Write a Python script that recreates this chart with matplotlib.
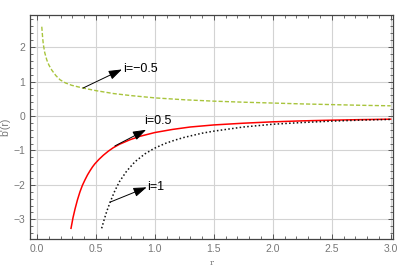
import matplotlib
matplotlib.use("Agg")
import matplotlib.pyplot as plt
from matplotlib.ticker import MultipleLocator

# Data
r_m05 = [0.04, 0.047, 0.053, 0.065, 0.082, 0.1, 0.125, 0.16, 0.195, 0.24, 0.294, 0.39, 0.5, 0.65, 0.8, 1.0, 1.25, 1.5, 1.75, 2.0, 2.25, 2.5, 2.75, 3.0]
b_m05 = [2.59, 2.28, 2.08, 1.84, 1.63, 1.48, 1.33, 1.17, 1.05, 0.96, 0.89, 0.81, 0.735, 0.65, 0.59, 0.525, 0.47, 0.43, 0.40, 0.375, 0.35, 0.33, 0.31, 0.295]

r_p05 = [0.288, 0.305, 0.322, 0.343, 0.364, 0.385, 0.407, 0.428, 0.449, 0.47, 0.49, 0.525, 0.562, 0.605, 0.647, 0.7, 0.788, 0.873, 1.0, 1.15, 1.3, 1.5, 1.75, 2.0, 2.25, 2.5, 2.75, 3.0]
b_p05 = [-3.26, -2.95, -2.70, -2.43, -2.20, -2.01, -1.85, -1.71, -1.59, -1.48, -1.39, -1.26, -1.14, -1.02, -0.92, -0.82, -0.69, -0.59, -0.48, -0.39, -0.32, -0.26, -0.21, -0.17, -0.142, -0.122, -0.106, -0.093]

r_p1 = [0.548, 0.57, 0.59, 0.62, 0.66, 0.70, 0.76, 0.83, 0.915, 0.994, 1.085, 1.17, 1.25, 1.4, 1.5, 1.75, 2.0, 2.25, 2.5, 2.75, 3.0]
b_p1 = [-3.26, -3.00, -2.78, -2.50, -2.17, -1.90, -1.60, -1.33, -1.10, -0.94, -0.80, -0.70, -0.62, -0.50, -0.44, -0.32, -0.24, -0.19, -0.15, -0.12, -0.10]

labels = ["i=\u22120.5", "i=0.5", "i=1"]
x_ticks = [0.0, 0.5, 1.0, 1.5, 2.0, 2.5, 3.0]
y_ticks = [-3, -2, -1, 0, 1, 2]

plt.rcParams['font.family'] = ['Liberation Sans', 'DejaVu Sans']
plt.rcParams['axes.unicode_minus'] = True

fig = plt.figure(figsize=(4.09, 2.70), dpi=100)
ax = fig.add_axes([30/409, 1-239/270, (393-30)/409, (239-15)/270])

ax.plot(r_m05, b_m05, color='#a8c43c', lw=1.0, ls=(0, (3, 1.5)))
ax.plot(r_p05, b_p05, color='#ff0000', lw=1.1, ls='-')
ax.plot(r_p1, b_p1, color='#111111', lw=1.1, ls=(0, (1, 1.5)))

ax.set_xlim(-0.06, 3.02)
ax.set_ylim(-3.57, 2.93)
ax.set_xticks(x_ticks)
ax.set_xticklabels([f"{v:.1f}" for v in x_ticks])
ax.set_yticks(y_ticks)
ax.set_yticklabels([f"{v}".replace('-', '\u2212') for v in y_ticks])
ax.xaxis.set_minor_locator(MultipleLocator(0.1))
ax.yaxis.set_minor_locator(MultipleLocator(0.2))
ax.grid(True, which='major', color='#d3d3d3', lw=0.8)
ax.set_axisbelow(True)

for s in ax.spines.values():
    s.set_color('#444444')
    s.set_linewidth(0.9)
ax.tick_params(which='both', direction='in', top=True, right=True, colors='#555555', labelcolor='#777777', labelsize=7.5)
ax.tick_params(which='major', length=3.5, width=0.7)
ax.tick_params(which='minor', length=2, width=0.6)

ax.set_xlabel('r', color='#777777', fontsize=6, family='DejaVu Serif', labelpad=4)
ax.set_ylabel("b'(r)", color='#777777', fontsize=7.5, labelpad=2)

arrow = dict(arrowstyle='-|>,head_length=0.8,head_width=0.28', color='black', lw=0.7,
             mutation_scale=10, shrinkA=0, shrinkB=0)
ax.annotate('', xy=(0.72, 1.35), xytext=(0.39, 0.81), arrowprops=arrow)
ax.text(0.73, 1.36, labels[0], fontsize=9, va='center', ha='left')
ax.annotate('', xy=(0.925, -0.40), xytext=(0.66, -0.87), arrowprops=arrow)
ax.text(0.91, -0.16, labels[1], fontsize=9, va='center', ha='left')
ax.annotate('', xy=(0.93, -2.07), xytext=(0.62, -2.50), arrowprops=arrow)
ax.text(0.935, -2.05, labels[2], fontsize=9, va='center', ha='left')

fig.savefig('out.png', dpi=100)
